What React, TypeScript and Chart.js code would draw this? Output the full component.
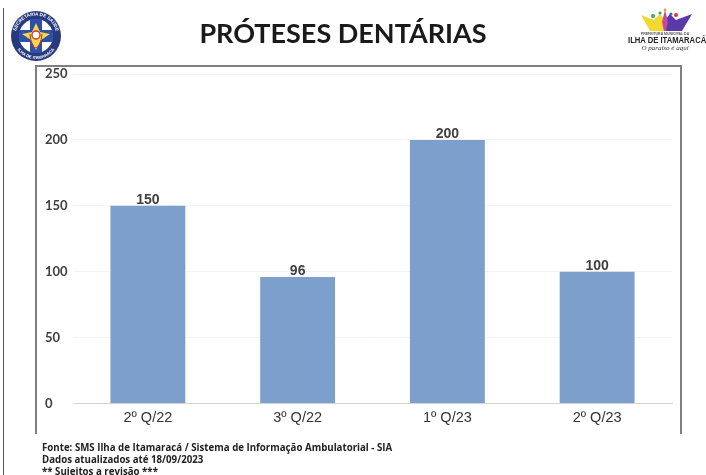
import React, { useEffect, useRef } from "react";
import { Chart, registerables } from "chart.js";

Chart.register(...registerables);

const categories = ["2º Q/22", "3º Q/22", "1º Q/23", "2º Q/23"];
const values = [150, 96, 200, 100];
const yTicks = [0, 50, 100, 150, 200, 250];
const titleText = "PRÓTESES DENTÁRIAS";
const notes = [
  "Fonte: SMS Ilha de Itamaracá / Sistema de Informação Ambulatorial - SIA",
  "Dados atualizados até 18/09/2023",
  "** Sujeitos a revisão ***",
];

const valueLabels = {
  id: "valueLabels",
  afterDatasetsDraw(chart: any) {
    const { ctx } = chart;
    const meta = chart.getDatasetMeta(0);
    ctx.save();
    ctx.font = "bold 14px 'Liberation Sans'";
    ctx.fillStyle = "#404040";
    ctx.textAlign = "center";
    ctx.textBaseline = "bottom";
    meta.data.forEach((el: any, i: number) => {
      ctx.fillText(String(values[i]), el.x, el.y + 1);
    });
    ctx.restore();
  },
};

function LeftLogo() {
  return (
    <svg width="52" height="52" viewBox="0 0 52 52" style={{ position: "absolute", left: 10, top: 10 }}>
      <defs>
        <path id="arcTop" d="M5.5 26a20.5 20.5 0 0 1 41 0" />
        <path id="arcBot" d="M3 26a23 23 0 0 0 46 0" />
      </defs>
      <circle cx="26" cy="26" r="25" fill="#27397f" />
      <circle cx="26" cy="26" r="17" fill="#fff" />
      <text fontFamily="'Liberation Sans'" fontSize="4.6" fontWeight="bold" fill="#fff" textAnchor="middle">
        <textPath href="#arcTop" startOffset="50%">SECRETARIA DE SAÚDE</textPath>
      </text>
      <text fontFamily="'Liberation Sans'" fontSize="4.2" fontWeight="bold" fill="#fff" textAnchor="middle">
        <textPath href="#arcBot" startOffset="50%">ILHA DE ITAMARACÁ</textPath>
      </text>
      <rect x="20" y="9" width="12" height="34" fill="#2f4fa8" />
      <rect x="9" y="20" width="34" height="12" fill="#2f4fa8" />
      <polygon points="26,13 30,22 40,24 31,30 26,40 21,30 12,24 22,22" fill="#f4d84a" />
      <circle cx="26" cy="25" r="4" fill="#fff" stroke="#c8352f" strokeWidth="1.4" />
      <path d="M20 24 Q21 38 26 38 Q31 36 32 24" fill="none" stroke="#c8352f" strokeWidth="1" />
    </svg>
  );
}

function RightLogo() {
  return (
    <div style={{ position: "absolute", left: 624, top: 8, width: 82, height: 44 }}>
      <svg width="82" height="24" viewBox="0 0 82 24" style={{ position: "absolute", left: 0, top: 0 }}>
        <polygon points="17,7 30,12 36,6 41,12 41,23 26,23" fill="#f3d92d" />
        <polygon points="41,12 46,6 52,12 68,6 58,23 41,23" fill="#5a3aa8" />
        <polygon points="38,14 41,2 44,14 42,23 40,23" fill="#c8469c" />
        <circle cx="29" cy="8" r="2" fill="#3aa655" />
        <circle cx="52" cy="7" r="2" fill="#d9342b" />
        <circle cx="36" cy="5" r="1.6" fill="#3aa655" />
        <circle cx="41" cy="2" r="1.4" fill="#e8a020" />
        <circle cx="47" cy="6" r="1.6" fill="#2f6fc0" />
      </svg>
      <div style={{ position: "absolute", left: 0, right: 0, top: 24, textAlign: "center", font: "bold 3.5px 'Liberation Sans'", color: "#555" }}>
        PREFEITURA MUNICIPAL DA
      </div>
      <div style={{ position: "absolute", left: 4, top: 27, font: "bold 9px 'Liberation Sans Narrow', 'Liberation Sans'", color: "#222", whiteSpace: "nowrap", transform: "scaleX(0.85)", transformOrigin: "left top" }}>
        ILHA DE ITAMARACÁ
      </div>
      <div style={{ position: "absolute", left: 0, right: 0, top: 36, textAlign: "center", font: "italic 7px 'Liberation Serif'", color: "#333", whiteSpace: "nowrap" }}>
        O paraíso é aqui
      </div>
    </div>
  );
}

export default function App() {
  const ref = useRef<HTMLCanvasElement | null>(null);

  useEffect(() => {
    document.body.style.margin = "0";
    document.body.style.background = "#fff";
    const chart = new Chart(ref.current as HTMLCanvasElement, {
      type: "bar",
      data: {
        labels: categories,
        datasets: [
          {
            data: values,
            backgroundColor: "#7c9fcc",
            categoryPercentage: 1,
            barPercentage: 0.5,
          },
        ],
      },
      plugins: [valueLabels],
      options: {
        responsive: false,
        animation: false,
        layout: { padding: { left: 45, right: 34, top: 74, bottom: 0 } },
        plugins: { legend: { display: false }, title: { display: false }, tooltip: { enabled: false } },
        scales: {
          x: {
            afterFit: (s: any) => { s.height = 71.5; },
            grid: { display: false, drawTicks: false },
            border: { color: "#d4d4d4", width: 1 },
            ticks: { color: "#333", font: { family: "'Liberation Sans'", size: 14.5 }, padding: 6, maxRotation: 0 },
          },
          y: {
            min: 0,
            max: 250,
            afterFit: (s: any) => { s.width = 28; },
            afterBuildTicks: (s: any) => { s.ticks = yTicks.map((value) => ({ value })); },
            grid: { color: "#f3f3f3", drawTicks: false },
            border: { display: false },
            ticks: {
              color: "#404040",
              crossAlign: "far",
              font: { family: "Lato", size: 13, weight: "bold" },
              padding: 5,
            },
          },
        },
      },
    } as any);
    return () => chart.destroy();
  }, []);

  return (
    <div style={{ position: "relative", width: 706, height: 475, overflow: "hidden", background: "#fff", filter: "blur(0.4px)" }}>
      <div style={{ position: "absolute", left: 3, top: 8, bottom: 0, width: 1, background: "#555" }} />
      <div style={{ position: "absolute", left: 35, top: 65, width: 643, height: 367, borderLeft: "2px solid #7f7f7f", borderRight: "2px solid #7f7f7f", borderTop: "2px solid #7f7f7f" }} />
      <canvas ref={ref} width={706} height={475} style={{ position: "absolute", left: 0, top: 0, display: "block" }} />
      <LeftLogo />
      <RightLogo />
      <div style={{ position: "absolute", left: 199, top: 16, width: 288, textAlign: "center", font: "bold 27px Lato", color: "#1a1a1a", whiteSpace: "nowrap" }}>
        {titleText}
      </div>
      {notes.map((n, i) => (
        <div key={n} style={{ position: "absolute", left: 42, top: 442 + i * 12.2, font: "bold 9.7px 'Open Sans'", lineHeight: "11px", color: "#222", whiteSpace: "nowrap" }}>
          {n}
        </div>
      ))}
    </div>
  );
}
